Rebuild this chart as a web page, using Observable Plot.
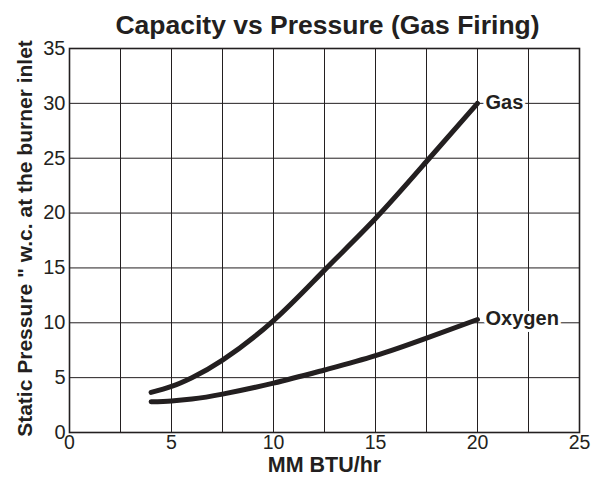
<!DOCTYPE html>
<html>
<head>
<meta charset="utf-8">
<script src="https://cdn.jsdelivr.net/npm/d3@7"></script>
<script src="https://cdn.jsdelivr.net/npm/@observablehq/plot@0.6"></script>
<style>
  html, body { margin: 0; padding: 0; background: #fff; }
</style>
</head>
<body>
<div id="chart"></div>
<script>
const titleText = "Capacity vs Pressure (Gas Firing)";
const xLabelText = "MM BTU/hr";
const yLabelText = "Static Pressure \" w.c. at the burner inlet";

const seriesNames = ["Gas", "Oxygen"];
const capacity = [4.0, 5, 6, 7.5, 10, 12.5, 15, 17.5, 20];
const gasPressure = [3.65, 4.2, 5.0, 6.6, 10.2, 14.8, 19.5, 24.7, 30.0];
const oxygenPressure = [2.8, 2.88, 3.05, 3.5, 4.5, 5.7, 7.0, 8.6, 10.3];

const xTicks = [0, 5, 10, 15, 20, 25];
const yTicks = [0, 5, 10, 15, 20, 25, 30, 35];
const xGrid = [2.5, 5, 7.5, 10, 12.5, 15, 17.5, 20, 22.5];
const yGrid = [5, 10, 15, 20, 25, 30];

const seriesValues = [gasPressure, oxygenPressure];
const data = seriesNames.flatMap((name, i) =>
  capacity.map((c, j) => ({series: name, capacity: c, pressure: seriesValues[i][j]}))
);

const ink = "#231f20";
const font = "'Liberation Sans', Arial, Helvetica, sans-serif";

const chart = Plot.plot({
  width: 598,
  height: 477,
  marginLeft: 69,
  marginRight: 19,
  marginTop: 48,
  marginBottom: 45,
  style: {fontFamily: font, background: "#fff", color: ink, overflow: "visible"},
  x: {domain: [0, 25]},
  y: {domain: [0, 35]},
  marks: [
    Plot.ruleX(xGrid, {stroke: ink, strokeWidth: 1}),
    Plot.ruleY(yGrid, {stroke: ink, strokeWidth: 1}),
    Plot.frame({stroke: ink, strokeWidth: 1.6}),
    Plot.line(data, {x: "capacity", y: "pressure", z: "series", stroke: ink, strokeWidth: 5, curve: "natural"}),
    Plot.text(data, Plot.selectLast({
      x: "capacity", y: "pressure", z: "series", text: "series",
      textAnchor: "start", dx: 8, dy: -1, fontSize: 20, fontWeight: "bold",
      fill: ink, stroke: "#fff", strokeWidth: 6, paintOrder: "stroke"
    })),
    Plot.axisX({ticks: xTicks, tickSize: 0, tickPadding: 3, fontSize: 19.5, label: null}),
    Plot.axisY({ticks: yTicks, tickSize: 0, tickPadding: 4, fontSize: 20, label: null}),
    Plot.text([titleText], {frameAnchor: "top", lineAnchor: "bottom", textAnchor: "middle", dx: 3, dy: -15, fontSize: 26.5, fontWeight: "bold", fill: ink}),
    Plot.text([xLabelText], {frameAnchor: "bottom", lineAnchor: "bottom", textAnchor: "middle", dy: 39.5, fontSize: 21.5, fontWeight: "bold", fill: ink}),
    Plot.text([yLabelText], {frameAnchor: "left", lineAnchor: "bottom", textAnchor: "middle", rotate: -90, dx: -38, dy: -2, fontSize: 21, fontWeight: "bold", fill: ink})
  ]
});

document.getElementById("chart").appendChild(chart);
</script>
</body>
</html>
